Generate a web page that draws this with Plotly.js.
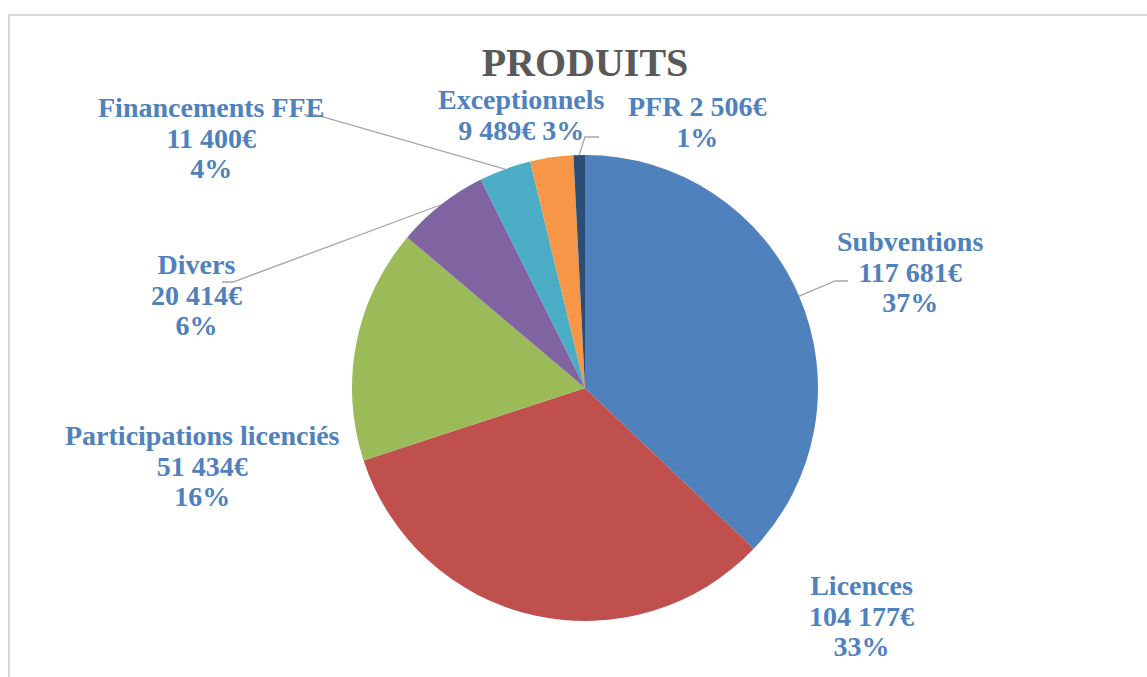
<!DOCTYPE html>
<html>
<head>
<meta charset="utf-8">
<script src="https://cdn.plot.ly/plotly-3.0.1.min.js"></script>
<style>
  body { margin: 0; overflow: hidden; background: #fff; }
  #plot { width: 1147px; height: 677px; }
  #frame {
    position: absolute; left: 8px; top: 14px; width: 2000px; height: 2000px;
    border-top: 2px solid #d9d9d9; border-left: 2px solid #d9d9d9;
    pointer-events: none;
  }
</style>
</head>
<body>
<div id="plot"></div>
<div id="frame"></div>
<script>
// data
const labels = ['Subventions', 'Licences', 'Participations licenciés', 'Divers', 'Financements FFE', 'Exceptionnels', 'PFR'];
const values = [117681, 104177, 51434, 20414, 11400, 9489, 2506];
const colors = ['#4F81BD', '#C0504D', '#9BBB59', '#8064A2', '#4BACC6', '#F79646', '#2C4D75'];
// how each label breaks its lines: [after name, after amount]
const breaks = [['<br>', '<br>'], ['<br>', '<br>'], ['<br>', '<br>'], ['<br>', '<br>'], ['<br>', '<br>'], ['<br>', ' '], [' ', '<br>']];

// page geometry (pixels)
const W = 1147, H = 677;
const cx = 585, cy = 388, R = 233;
// label centres
const labelPos = [[910, 272], [861, 616], [202, 466], [196, 295], [211, 138], [521, 115], [697, 122]];
// leader lines: slice index and the points on the label side
const leaders = [
    [0, [[835, 281], [848, 281]]],
    [3, [[233, 282], [222, 282]]],
    [4, [[316, 115], [304, 115]]],
    [6, [[585, 137], [599, 137]]]
];

function X(px) { return px / W; }
function Y(py) { return 1 - py / H; }

function fmt(n) {
    return String(n).replace(/\B(?=(\d{3})+(?!\d))/g, ' ') + '€';
}

const total = values.reduce((a, b) => a + b, 0);

// mid angle of each slice, clockwise from 12 o'clock
let acc = 0;
const midPts = values.map((v) => {
    const a = (acc + v / 2) / total * 2 * Math.PI;
    acc += v;
    return [cx + R * Math.sin(a), cy - R * Math.cos(a)];
});

const annotations = labels.map((name, i) => {
    const pct = Math.round(values[i] / total * 100) + '%';
    const txt = name + breaks[i][0] + fmt(values[i]) + breaks[i][1] + pct;
    return {
        xref: 'paper', yref: 'paper',
        x: X(labelPos[i][0]), y: Y(labelPos[i][1]),
        xanchor: 'center', yanchor: 'middle',
        showarrow: false,
        text: '<span style="font-size:28px">' + txt + '</span>',
        font: { family: 'Liberation Serif', size: 23.5, color: '#4F81BD', weight: 'bold' }
    };
});

const shapes = leaders.map(([i, pts]) => {
    const p0 = midPts[i];
    let path = 'M ' + X(p0[0]) + ' ' + Y(p0[1]);
    pts.forEach((p) => { path += ' L ' + X(p[0]) + ' ' + Y(p[1]); });
    return {
        type: 'path', xref: 'paper', yref: 'paper', path: path,
        line: { color: '#A6A6A6', width: 1.3 }
    };
});

const trace = {
    type: 'pie',
    labels: labels,
    values: values,
    sort: false,
    direction: 'clockwise',
    rotation: 0,
    textinfo: 'none',
    hoverinfo: 'none',
    marker: { colors: colors, line: { width: 0 } },
    domain: { x: [X(cx - R), X(cx + R)], y: [Y(cy + R), Y(cy - R)] }
};

const layout = {
    width: W,
    height: H,
    margin: { l: 0, r: 0, t: 0, b: 0 },
    paper_bgcolor: '#fff',
    showlegend: false,
    title: {
        text: 'PRODUITS',
        x: X(585), xanchor: 'center',
        y: Y(62), yanchor: 'middle',
        font: { family: 'Liberation Serif', size: 40, color: '#595959', weight: 'bold' }
    },
    annotations: annotations,
    shapes: shapes
};

Plotly.newPlot('plot', [trace], layout, { staticPlot: true });
</script>
</body>
</html>
